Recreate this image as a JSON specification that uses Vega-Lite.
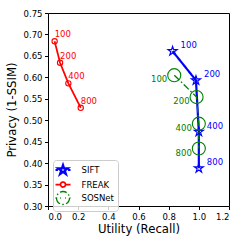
{
  "$schema": "https://vega.github.io/schema/vega-lite/v6.json",
  "width": 181,
  "height": 193,
  "autosize": {"type": "none"},
  "padding": {"left": 48, "top": 13, "right": 16, "bottom": 39},
  "config": {
    "font": "DejaVu Sans",
    "view": {"stroke": "black", "strokeWidth": 1},
    "axis": {"grid": false, "domain": false, "tickColor": "black", "tickSize": 3.5, "labelColor": "black", "labelFontSize": 8.5, "labelPadding": 2.5, "titleFontSize": 11.7, "titleFontWeight": "normal", "titleColor": "black"}
  },
  "data": {"values": [
    {"method": "SIFT", "n": "100", "recall": 0.826, "privacy": 0.661},
    {"method": "SIFT", "n": "200", "recall": 0.981, "privacy": 0.593},
    {"method": "SIFT", "n": "400", "recall": 1.0, "privacy": 0.473},
    {"method": "SIFT", "n": "800", "recall": 1.0, "privacy": 0.388},
    {"method": "FREAK", "n": "100", "recall": 0.044, "privacy": 0.684},
    {"method": "FREAK", "n": "200", "recall": 0.08, "privacy": 0.634},
    {"method": "FREAK", "n": "400", "recall": 0.135, "privacy": 0.586},
    {"method": "FREAK", "n": "800", "recall": 0.217, "privacy": 0.529},
    {"method": "SOSNet", "n": "100", "recall": 0.837, "privacy": 0.605},
    {"method": "SOSNet", "n": "200", "recall": 0.985, "privacy": 0.554},
    {"method": "SOSNet", "n": "400", "recall": 1.0, "privacy": 0.492},
    {"method": "SOSNet", "n": "800", "recall": 1.0, "privacy": 0.434}
  ]},
  "encoding": {
    "x": {"field": "recall", "type": "quantitative", "scale": {"domain": [0, 1.2], "nice": false, "zero": false}, "axis": {"values": [0, 0.2, 0.4, 0.6, 0.8, 1.0, 1.2], "format": ".1f", "title": "Utility (Recall)", "titlePadding": 3}},
    "y": {"field": "privacy", "type": "quantitative", "scale": {"domain": [0.3, 0.75], "nice": false, "zero": false}, "axis": {"values": [0.3, 0.35, 0.4, 0.45, 0.5, 0.55, 0.6, 0.65, 0.7, 0.75], "format": ".2f", "title": "Privacy (1-SSIM)", "titlePadding": 6}}
  },
  "layer": [
    {
      "mark": {"type": "line", "strokeCap": "butt"},
      "encoding": {
        "color": {"field": "method", "type": "nominal", "scale": {"domain": ["SIFT", "FREAK", "SOSNet"], "range": ["#0000ff", "#ff0000", "#008000"]},
          "legend": {"title": null, "orient": "none", "legendX": 5, "legendY": 147, "labelFontSize": 8.5, "labelColor": "black", "symbolSize": 100, "symbolFillColor": "transparent", "symbolType": "circle", "labelOffset": 12, "rowPadding": -2.5, "padding": 3.5, "strokeColor": "#cccccc", "fillColor": "rgba(255,255,255,0.8)", "cornerRadius": 3,
            "encode": {"symbols": {"update": {
              "shape": {"signal": "datum.value === 'SIFT' ? 'M-1.5,0L-1,0M1,0L1.5,0M0,-1L0.225,-0.309L0.951,-0.309L0.363,0.118L0.588,0.809L0,0.382L-0.588,0.809L-0.363,0.118L-0.951,-0.309L-0.225,-0.309Z' : datum.value === 'FREAK' ? 'M-1.5,0L-0.5,0M0.5,0L1.5,0M-0.5,0A0.5,0.5 0 1,0 0.5,0A0.5,0.5 0 1,0 -0.5,0' : 'M-1.5,0L-1.3,0M-0.55,0L-0.4,0M0.4,0L0.55,0M1.3,0L1.5,0M-1.3,0A1.3,1.3 0 1,0 1.3,0A1.3,1.3 0 1,0 -1.3,0'"},
              "strokeWidth": {"signal": "datum.value === 'SIFT' ? 1.4 : 1.2"},
              "fill": {"value": "transparent"},
              "fillOpacity": {"value": 0}
            }}}}
        },
        "strokeWidth": {"field": "method", "type": "nominal", "scale": {"domain": ["SIFT", "FREAK", "SOSNet"], "range": [2.2, 1.3, 1.4]}, "legend": null},
        "strokeDash": {"field": "method", "type": "nominal", "scale": {"domain": ["SIFT", "FREAK", "SOSNet"], "range": [[1, 0], [1, 0], [7, 2.4, 1.5, 2.4]]}, "legend": null}
      }
    },
    {
      "transform": [{"filter": "datum.method === 'SIFT'"}],
      "mark": {"type": "point", "shape": "M0,-1L0.225,-0.309L0.951,-0.309L0.363,0.118L0.588,0.809L0,0.382L-0.588,0.809L-0.363,0.118L-0.951,-0.309L-0.225,-0.309Z", "size": 90, "color": "#0000ff", "filled": false, "strokeWidth": 1.2, "opacity": 1}
    },
    {
      "transform": [{"filter": "datum.method === 'FREAK'"}],
      "mark": {"type": "point", "shape": "circle", "size": 28, "color": "#ff0000", "filled": false, "strokeWidth": 1.1, "opacity": 1}
    },
    {
      "transform": [{"filter": "datum.method === 'SOSNet'"}],
      "mark": {"type": "point", "shape": "circle", "size": 170, "color": "#008000", "filled": false, "strokeWidth": 1.1, "opacity": 1}
    },
    {
      "transform": [{"filter": "datum.method === 'SIFT'"}],
      "mark": {"type": "text", "align": "left", "baseline": "middle", "dx": 8, "dy": -6, "fontSize": 8.5, "color": "#0000ff"},
      "encoding": {"text": {"field": "n"}}
    },
    {
      "transform": [{"filter": "datum.method === 'FREAK'"}],
      "mark": {"type": "text", "align": "left", "baseline": "middle", "dx": 0, "dy": -7, "fontSize": 8.5, "color": "#ff0000"},
      "encoding": {"text": {"field": "n"}}
    },
    {
      "transform": [{"filter": "datum.method === 'SOSNet'"}],
      "mark": {"type": "text", "align": "right", "baseline": "middle", "dx": -7, "dy": 4, "fontSize": 8.5, "color": "#008000"},
      "encoding": {"text": {"field": "n"}}
    }
  ]
}
